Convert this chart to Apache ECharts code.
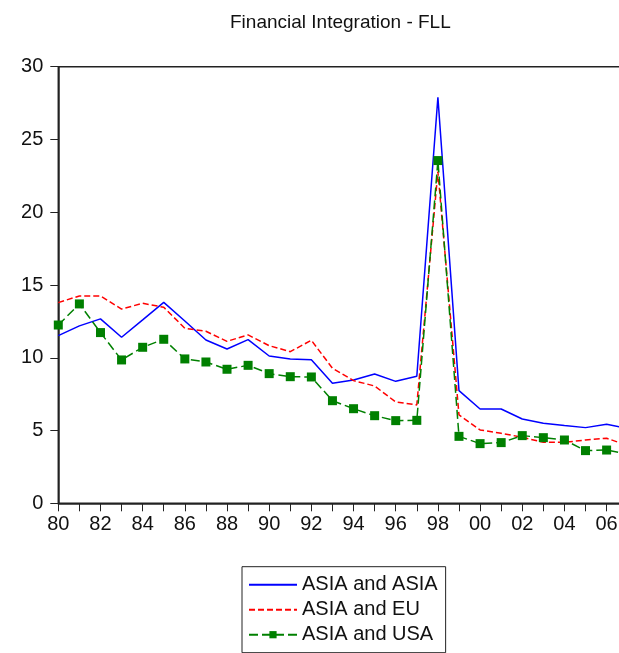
<!DOCTYPE html>
<html>
<head>
<meta charset="utf-8">
<script src="https://cdn.jsdelivr.net/npm/echarts@6/dist/echarts.min.js"></script>
<style>
html,body{margin:0;padding:0;background:#fff;}
#chart{width:619px;height:653px;}
</style>
</head>
<body>
<div id="chart"></div>
<script>
var years = [1980,1981,1982,1983,1984,1985,1986,1987,1988,1989,1990,1991,1992,1993,1994,1995,1996,1997,1998,1999,2000,2001,2002,2003,2004,2005,2006,2007];
var asiaAsia = [11.52,12.19,12.67,11.41,12.6,13.81,12.53,11.22,10.6,11.25,10.12,9.92,9.87,8.25,8.47,8.89,8.38,8.73,27.9,7.74,6.48,6.48,5.79,5.5,5.34,5.2,5.43,5.15];
var asiaEU = [13.79,14.25,14.25,13.35,13.74,13.47,12.03,11.82,11.13,11.57,10.83,10.42,11.2,9.28,8.43,8.06,6.96,6.76,22.8,6.07,5.04,4.81,4.54,4.19,4.19,4.35,4.47,3.97];
var asiaUSA = [12.25,13.7,11.73,9.85,10.72,11.27,9.92,9.71,9.21,9.48,8.91,8.7,8.68,7.05,6.5,6.02,5.68,5.7,23.55,4.6,4.1,4.17,4.65,4.51,4.35,3.62,3.66,3.39];
var seriesNames = ['ASIA and ASIA','ASIA and EU','ASIA and USA'];
var titleText = 'Financial Integration - FLL';

function pairs(vals){ return years.map(function(y,i){ return [y, vals[i]]; }); }

var font = "'Liberation Sans', Arial, sans-serif";
var chart = echarts.init(document.getElementById('chart'), null, {renderer:'canvas'});
chart.setOption({
  animation:false,
  backgroundColor:'#fff',
  title:{ text:titleText, left:225, top:8,
    textStyle:{ fontFamily:font, fontSize:19, fontWeight:'normal', color:'#111' } },
  grid:{ left:58.3, top:66.7, width:569.4, height:436.6, outerBoundsMode:'none', containLabel:false,
    show:true, borderColor:'#222', borderWidth:1.5, backgroundColor:'transparent' },
  xAxis:{ type:'value', min:1980, max:2007, interval:1,
    axisLine:{ show:true, lineStyle:{ color:'#222', width:1.5 } },
    axisTick:{ show:true, inside:false, length:8, lineStyle:{ color:'#222', width:1 } },
    splitLine:{ show:false },
    axisLabel:{ margin:11, fontFamily:font, fontSize:20, color:'#111', hideOverlap:false,
      formatter:function(v){ v=Math.round(v); if (v%2!==0) return ''; var s=String(v%100); return s.length<2?'0'+s:s; } }
  },
  yAxis:{ type:'value', min:0, max:30, interval:5,
    axisLine:{ show:true, lineStyle:{ color:'#222', width:1.5 } },
    axisTick:{ show:true, inside:false, length:8, lineStyle:{ color:'#222', width:1 } },
    splitLine:{ show:false },
    axisLabel:{ margin:15, fontFamily:font, fontSize:20, color:'#111' }
  },
  legend:{ orient:'vertical', left:242, top:566.7, padding:[8,8,8,6],
    borderColor:'#222', borderWidth:1, backgroundColor:'#fff',
    itemWidth:48, itemHeight:9, itemGap:5,
    textStyle:{ fontFamily:font, fontSize:20, color:'#111', lineHeight:20 },
    data:[ {name:seriesNames[0], itemStyle:{opacity:0}}, {name:seriesNames[1], itemStyle:{opacity:0}}, {name:seriesNames[2]} ] },
  series:[
    { name:seriesNames[0], type:'line', data:pairs(asiaAsia), symbol:'none',
      lineStyle:{ color:'#0000ff', width:1.5, type:'solid' }, itemStyle:{ color:'#0000ff' } },
    { name:seriesNames[1], type:'line', data:pairs(asiaEU), symbol:'none',
      lineStyle:{ color:'#ff0000', width:1.5, type:[6,3] }, itemStyle:{ color:'#ff0000' } },
    { name:seriesNames[2], type:'line', data:pairs(asiaUSA), symbol:'rect', symbolSize:9,
      lineStyle:{ color:'#008000', width:1.5, type:[9,4] }, itemStyle:{ color:'#008000' } }
  ]
});
</script>
</body>
</html>
